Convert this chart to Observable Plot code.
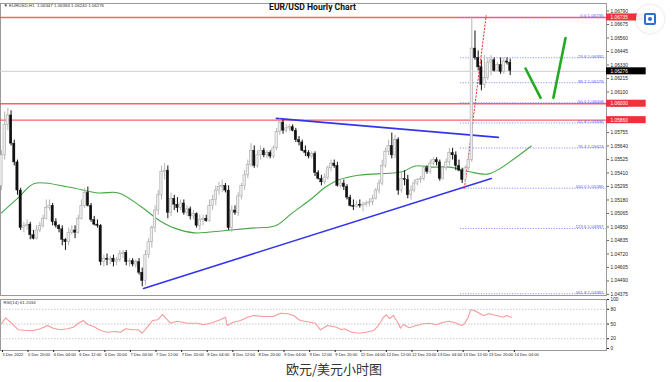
<!DOCTYPE html>
<html><head><meta charset="utf-8">
<script src="https://cdn.jsdelivr.net/npm/d3@7"></script>
<script src="https://cdn.jsdelivr.net/npm/@observablehq/plot@0.6"></script>
<style>
body{margin:0;background:#fff;}
#wrap{position:relative;width:672px;height:382px;overflow:hidden;background:#fff;}
#price{position:absolute;left:0;top:0;}
#rsi{position:absolute;left:0;top:297px;}
#caption{position:absolute;left:0;top:360px;width:668px;text-align:center;font:13px/18px "Noto Sans CJK SC",sans-serif;color:#333;}
#icon{position:absolute;left:636px;top:5px;width:28px;height:28px;border-radius:50%;background:rgba(255,255,255,0.92);box-shadow:0 0 3px rgba(0,0,0,0.18);}
#icon .sq{position:absolute;left:8px;top:8px;width:8px;height:8px;border:2px solid #2a6fd6;border-radius:2px;}
#icon .dot{position:absolute;left:12px;top:12px;width:4px;height:4px;border-radius:50%;background:#2a6fd6;}
</style></head>
<body><div id="wrap"><div id="price"></div><div id="rsi"></div><div id="icon"><div class="sq"></div><div class="dot"></div></div><div id="caption">欧元/美元小时图</div></div>
<script>
// ---- hourly EUR/USD bars (index 0 = 5 Dec 2022 12:00) ----
const open = [1.0530,1.0556,1.0582,1.0590,1.0566,1.0550,1.0526,1.0494,1.0496,1.0497,
1.0488,1.0485,1.0492,1.0496,1.0502,1.0511,1.0513,1.0499,1.0496,1.0493,
1.0484,1.0482,1.0490,1.0492,1.0490,1.0502,1.0513,1.0524,1.0513,1.0501,
1.0497,1.0496,1.0465,1.0468,1.0467,1.0468,1.0465,1.0467,1.0472,1.0473,
1.0465,1.0466,1.0463,1.0465,1.0456,1.0449,1.0471,1.0482,1.0494,1.0509,
1.0522,1.0542,1.0543,1.0507,1.0519,1.0514,1.0511,1.0515,1.0507,1.0510,
1.0504,1.0506,1.0496,1.0501,1.0502,1.0500,1.0513,1.0518,1.0526,1.0529,
1.0530,1.0526,1.0494,1.0509,1.0507,1.0521,1.0530,1.0539,1.0548,1.0560,
1.0547,1.0556,1.0560,1.0556,1.0558,1.0555,1.0562,1.0576,1.0584,1.0577,
1.0579,1.0580,1.0577,1.0569,1.0567,1.0560,1.0558,1.0555,1.0557,1.0541,
1.0536,1.0533,1.0537,1.0545,1.0549,1.0547,1.0530,1.0532,1.0529,1.0520,
1.0513,1.0512,1.0514,1.0513,1.0514,1.0515,1.0516,1.0519,1.0526,1.0532,
1.0547,1.0559,1.0564,1.0556,1.0569,1.0526,1.0536,1.0535,1.0522,1.0526,
1.0532,1.0535,1.0536,1.0545,1.0542,1.0549,1.0552,1.0550,1.0536,1.0545,
1.0550,1.0558,1.0556,1.0547,1.0543,1.0535,1.0545,1.0552,1.0647,1.0639,
1.0631,1.0616,1.0622,1.0635,1.0637,1.0628,1.0633,1.0627,1.0636,1.0635];
const high = [1.0560,1.0593,1.0596,1.0594,1.0569,1.0552,1.0528,1.0499,1.0501,1.0499,
1.0492,1.0496,1.0499,1.0505,1.0518,1.0518,1.0515,1.0502,1.0497,1.0496,
1.0485,1.0494,1.0496,1.0496,1.0505,1.0518,1.0528,1.0529,1.0515,1.0504,
1.0501,1.0497,1.0471,1.0472,1.0470,1.0471,1.0469,1.0475,1.0475,1.0475,
1.0468,1.0468,1.0467,1.0468,1.0460,1.0475,1.0485,1.0496,1.0513,1.0526,
1.0547,1.0549,1.0547,1.0524,1.0522,1.0520,1.0518,1.0518,1.0513,1.0512,
1.0509,1.0507,1.0505,1.0505,1.0505,1.0518,1.0522,1.0530,1.0533,1.0535,
1.0532,1.0530,1.0513,1.0513,1.0524,1.0532,1.0543,1.0552,1.0566,1.0564,
1.0560,1.0564,1.0562,1.0560,1.0560,1.0564,1.0579,1.0587,1.0586,1.0582,
1.0582,1.0582,1.0579,1.0572,1.0569,1.0564,1.0560,1.0559,1.0559,1.0543,
1.0539,1.0540,1.0547,1.0552,1.0552,1.0550,1.0535,1.0535,1.0531,1.0522,
1.0518,1.0517,1.0518,1.0516,1.0517,1.0519,1.0522,1.0528,1.0535,1.0552,
1.0562,1.0569,1.0575,1.0573,1.0571,1.0542,1.0543,1.0539,1.0530,1.0535,
1.0536,1.0538,1.0547,1.0547,1.0552,1.0554,1.0554,1.0552,1.0547,1.0553,
1.0562,1.0562,1.0559,1.0552,1.0545,1.0547,1.0556,1.0674,1.0662,1.0645,
1.0637,1.0641,1.0639,1.0641,1.0639,1.0635,1.0639,1.0639,1.0639,1.0638];
const low = [1.0526,1.0552,1.0577,1.0564,1.0547,1.0522,1.0492,1.0490,1.0492,1.0484,
1.0484,1.0484,1.0490,1.0494,1.0501,1.0509,1.0496,1.0494,1.0490,1.0479,
1.0475,1.0479,1.0488,1.0485,1.0489,1.0501,1.0511,1.0512,1.0499,1.0496,
1.0494,1.0462,1.0461,1.0462,1.0463,1.0461,1.0462,1.0465,1.0468,1.0462,
1.0461,1.0461,1.0460,1.0454,1.0444,1.0445,1.0468,1.0477,1.0490,1.0505,
1.0518,1.0535,1.0502,1.0504,1.0509,1.0507,1.0509,1.0505,1.0504,1.0501,
1.0501,1.0494,1.0492,1.0496,1.0499,1.0499,1.0509,1.0513,1.0522,1.0524,
1.0524,1.0492,1.0490,1.0505,1.0504,1.0518,1.0526,1.0536,1.0546,1.0545,
1.0545,1.0552,1.0554,1.0553,1.0553,1.0553,1.0560,1.0573,1.0574,1.0575,
1.0576,1.0576,1.0567,1.0564,1.0559,1.0555,1.0553,1.0553,1.0538,1.0535,
1.0530,1.0531,1.0535,1.0542,1.0545,1.0529,1.0528,1.0526,1.0518,1.0512,
1.0509,1.0511,1.0511,1.0508,1.0512,1.0512,1.0513,1.0518,1.0523,1.0530,
1.0545,1.0556,1.0553,1.0553,1.0522,1.0524,1.0530,1.0519,1.0518,1.0524,
1.0530,1.0532,1.0534,1.0540,1.0540,1.0547,1.0547,1.0534,1.0535,1.0543,
1.0547,1.0552,1.0543,1.0542,1.0532,1.0533,1.0543,1.0550,1.0637,1.0628,
1.0611,1.0613,1.0620,1.0624,1.0627,1.0627,1.0625,1.0625,1.0633,1.0624];
const close = [1.0556,1.0582,1.0590,1.0566,1.0550,1.0526,1.0494,1.0496,1.0497,1.0488,
1.0485,1.0492,1.0496,1.0502,1.0511,1.0513,1.0499,1.0496,1.0493,1.0484,
1.0482,1.0490,1.0492,1.0490,1.0502,1.0513,1.0524,1.0513,1.0501,1.0497,
1.0496,1.0465,1.0468,1.0467,1.0468,1.0465,1.0467,1.0472,1.0473,1.0465,
1.0466,1.0463,1.0465,1.0456,1.0449,1.0471,1.0482,1.0494,1.0509,1.0522,
1.0542,1.0543,1.0507,1.0519,1.0514,1.0511,1.0515,1.0507,1.0510,1.0504,
1.0506,1.0496,1.0501,1.0502,1.0500,1.0513,1.0518,1.0526,1.0529,1.0530,
1.0526,1.0494,1.0509,1.0507,1.0521,1.0530,1.0539,1.0548,1.0560,1.0547,
1.0556,1.0560,1.0556,1.0558,1.0555,1.0562,1.0576,1.0584,1.0577,1.0579,
1.0580,1.0577,1.0569,1.0567,1.0560,1.0558,1.0555,1.0557,1.0541,1.0536,
1.0533,1.0537,1.0545,1.0549,1.0547,1.0530,1.0532,1.0529,1.0520,1.0513,
1.0512,1.0514,1.0513,1.0514,1.0515,1.0516,1.0519,1.0526,1.0532,1.0547,
1.0559,1.0564,1.0556,1.0569,1.0526,1.0536,1.0535,1.0522,1.0526,1.0532,
1.0535,1.0536,1.0545,1.0542,1.0549,1.0552,1.0550,1.0536,1.0545,1.0550,
1.0558,1.0556,1.0547,1.0543,1.0535,1.0545,1.0552,1.0647,1.0639,1.0631,
1.0616,1.0622,1.0635,1.0637,1.0628,1.0633,1.0627,1.0636,1.0635,1.0628];

// moving average (green)
const maIdx = [0,5.3,10.3,20.9,30.3,36.6,43.8,49.1,54.1,60.3,70,78.1,85.6,90.9,96.9,101.3,105.3,111.6,122.2,125.3,129.4,134.7,140,146.3,151.9,154.7,159.7,165.6];
const maVal = [1.0507,1.0520,1.0532,1.0529,1.0524,1.0524,1.0512,1.0501,1.0494,1.0490,1.0492,1.0494,1.0496,1.0507,1.0519,1.0529,1.0535,1.0539,1.0541,1.0542,1.0547,1.0546,1.0546,1.0542,1.0540,1.0543,1.0552,1.0564];

// RSI(14)
const rsiIdx = [0,1.3,2.8,5.3,8.1,10,12.2,14.4,16.2,18.4,20.6,22.5,24,25.6,26.9,28.8,31,33,35.6,37.2,38.8,41,42.8,44,45.6,47.2,48.8,50.3,51.3,52.8,55,58,61.3,63,65.3,68.4,70,70.6,72.5,74.7,76.9,78.8,81.9,85,87.2,89.4,91.3,93.4,96.6,98.1,99.7,101.9,104.7,106.3,107.2,109.4,111.9,114,116.3,117.8,119.4,120.3,121.3,122.5,124,124.7,125.6,127.5,129.7,131.9,133.8,135.9,138.1,140,142.2,143.8,144.7,145.9,146.6,147.8,150.6,152.5,154.7,156.9,157.8,159.4];
const rsiVal = [50.4,62.7,53.7,38.2,36.7,36.7,40.2,46.9,41.4,38.2,40.2,43.5,51.6,57.1,49,44.9,36.7,33.3,34.7,33.3,40.2,38.2,38.2,31.2,43.5,57.1,58.6,69.4,62.7,51.6,55.7,51.6,51.6,48.4,51.6,58.6,63.9,46.9,53.7,57.1,63.9,67.3,65.3,65.3,72,70.8,67.3,57.1,53.7,51.6,38.2,46.9,43.5,38.2,40.2,33.3,31.2,33.3,36.7,46.9,63.9,68.8,61.2,67.3,51.6,41.4,49,42.2,46.9,50.4,51.6,48.4,53.7,55.7,51.6,46.9,50.4,63.9,79,77.6,67.3,70.8,67.3,63.9,67.3,63.9];
const rsiLevels = [80, 50, 20];
const rsiTicks = [100, 80, 50, 20, 0];

// drawn objects
const trendId = ["support","support","resistance","resistance"];
const trendIdx = [44.4, 153.1, 85.9, 155.3];
const trendPrice = [1.04426, 1.05363, 1.05875, 1.05713];
const zigId = ["a","a","b","b"];
const zigIdx = [163.8, 168.5, 172.5, 176.3];
const zigPrice = [1.0630, 1.0605, 1.0605, 1.0656];
const fibDiagIdx = [144.7, 151.5];
const fibDiagPrice = [1.0528, 1.0675];
const fibStartIdx = 143.5;
const fibLevels = ["0.0","23.6","38.2","50.0","61.8","76.4","100.0","123.6","161.8"];
const fibPrices = [1.06735,1.06392,1.06179,1.06008,1.05836,1.05623,1.05280,1.04937,1.04381];
const redLevels = [1.06735, 1.06000, 1.05860];
const lastPrice = 1.06276;

// axes
const priceTicks = [1.04375,1.04490,1.04605,1.04720,1.04835,1.04950,1.05065,1.05180,1.05295,1.05410,1.05525,1.05640,1.05755,1.05870,1.05985,1.06100,1.06215,1.06330,1.06445,1.06560,1.06675,1.06790];
const timeIdx = [0,8,16,24,32,40,48,56,64,72,80,88,96,104,112,120,128,136,144,152,160];
const timeLabels = ["5 Dec 2022","5 Dec 20:00","6 Dec 04:00","6 Dec 12:00","6 Dec 20:00","7 Dec 04:00","7 Dec 12:00","7 Dec 20:00","8 Dec 04:00","8 Dec 12:00","8 Dec 20:00","9 Dec 04:00","9 Dec 12:00","9 Dec 20:00","12 Dec 04:00","12 Dec 12:00","12 Dec 20:00","13 Dec 04:00","13 Dec 12:00","13 Dec 20:00","14 Dec 04:00"];
const headerText = "▼ EURUSD,H1  1.06347 1.06384 1.06240 1.06276";
const titleText = "EUR/USD Hourly Chart";
const rsiText = "RSI(14) 61.2034";

// ---- build ----
const X_DOMAIN = [-0.3, 189.1];
const XMAX = X_DOMAIN[1];
const BOX = 12.4; // label box width in bar units
const bars = close.map((c, i) => ({i, o: open[i], h: high[i], l: low[i], c}));
const up = bars.filter(b => b.c >= b.o), dn = bars.filter(b => b.c < b.o);
const ma = maIdx.map((x, k) => ({x, y: maVal[k]}));
const rsi = rsiIdx.map((x, k) => ({x, y: rsiVal[k]}));
const trend = trendIdx.map((x, k) => ({x, y: trendPrice[k], z: trendId[k]}));
const zig = zigIdx.map((x, k) => ({x, y: zigPrice[k], z: zigId[k]}));
const fibDiag = fibDiagIdx.map((x, k) => ({x, y: fibDiagPrice[k]}));
const fib = fibLevels.map((lv, k) => ({y: fibPrices[k], t: lv + " " + fibPrices[k].toFixed(5)}));
const boxes = redLevels.map(p => ({y: p, fill: "#f0303a", t: p.toFixed(5)})).concat([{y: lastPrice, fill: "#000", t: lastPrice.toFixed(5)}]);
const timeMap = new Map(timeIdx.map((d, k) => [d, timeLabels[k]]));
const FONT = "'Liberation Sans', Arial, sans-serif";

const pricePlot = Plot.plot({
  width: 672, height: 297,
  marginLeft: 0, marginRight: 66, marginTop: 3, marginBottom: 2,
  x: {domain: X_DOMAIN, axis: null},
  y: {domain: [1.04366, 1.06854], axis: null},
  style: {fontFamily: FONT, fontSize: "5px", color: "#222", background: "transparent", overflow: "visible"},
  marks: [
    Plot.frame({stroke: "#9a9a9a"}),
    Plot.ruleY([lastPrice], {stroke: "#cfcfcf", strokeWidth: 1}),
    Plot.ruleY(redLevels, {stroke: "#f5505a", strokeWidth: 1.4, strokeOpacity: 0.9}),
    Plot.ruleY(fibPrices, {x1: fibStartIdx, x2: XMAX, stroke: "#7474ff", strokeWidth: 0.9, strokeDasharray: "1,1.6"}),
    Plot.line(ma, {x: "x", y: "y", stroke: "#45a845", strokeWidth: 1.1, curve: "catmull-rom"}),
    Plot.line(trend, {x: "x", y: "y", z: "z", stroke: "#3434ee", strokeWidth: 1.6}),
    Plot.line(fibDiag, {x: "x", y: "y", stroke: "#f03030", strokeWidth: 1, strokeDasharray: "1.4,2"}),
    Plot.ruleX(up, {x: "i", y1: "l", y2: "h", stroke: "#b4b4b4", strokeWidth: 1}),
    Plot.ruleX(dn, {x: "i", y1: "l", y2: "h", stroke: "#111", strokeWidth: 1}),
    Plot.rect(up, {x1: d => d.i - 0.36, x2: d => d.i + 0.36, y1: "o", y2: "c", fill: "#eeeeee", stroke: "#aaaaaa", strokeWidth: 0.6}),
    Plot.rect(dn, {x1: d => d.i - 0.36, x2: d => d.i + 0.36, y1: "o", y2: "c", fill: "#111", stroke: "#111", strokeWidth: 0.4}),
    Plot.line(zig, {x: "x", y: "y", z: "z", stroke: "#22aa22", strokeWidth: 2.6}),
    Plot.text(fib, {x: XMAX, y: "y", text: "t", textAnchor: "end", lineAnchor: "bottom", dx: -3, dy: 0, fill: "#5b5bff", fontSize: 4.4}),
    Plot.axisY(priceTicks, {anchor: "right", tickSize: 2, tickPadding: 2, tickFormat: d3.format(".5f"), label: null, fontSize: 4.8, stroke: "#666"}),
    Plot.rect(boxes, {x1: XMAX, x2: XMAX + BOX, y1: d => d.y - 0.0003, y2: d => d.y + 0.0003, fill: "fill"}),
    Plot.text(boxes, {x: XMAX, y: "y", text: "t", textAnchor: "start", dx: 4, fill: "#fff", fontSize: 4.8}),
    Plot.text([headerText], {frameAnchor: "top-left", dx: 3, dy: 0, fontSize: 4.4, fill: "#333"}),
    Plot.text([titleText], {frameAnchor: "top", dx: 9, dy: 0, fontSize: 8.6, fontWeight: "bold", fill: "#111", fontFamily: "Roboto, 'Liberation Sans', sans-serif"})
  ]
});
document.getElementById("price").appendChild(pricePlot);

const rsiPlot = Plot.plot({
  width: 672, height: 62,
  marginLeft: 0, marginRight: 66, marginTop: 2, marginBottom: 9,
  x: {domain: X_DOMAIN, axis: null},
  y: {domain: [-4, 100], axis: null},
  style: {fontFamily: FONT, fontSize: "5px", color: "#222", background: "transparent", overflow: "visible"},
  marks: [
    Plot.frame({stroke: "#9a9a9a"}),
    Plot.ruleY(rsiLevels, {stroke: "#bdbdbd", strokeWidth: 0.8, strokeDasharray: "1.5,1.5"}),
    Plot.line(rsi, {x: "x", y: "y", stroke: "#f89a9a", strokeWidth: 1.1}),
    Plot.axisY(rsiTicks, {anchor: "right", tickSize: 2, tickPadding: 2, label: null, fontSize: 4.8}),
    Plot.axisX(timeIdx, {anchor: "bottom", tickSize: 2, tickPadding: 1, tickFormat: d => timeMap.get(d), textAnchor: "start", dx: 1, label: null, fontSize: 4.1}),
    Plot.text([rsiText], {frameAnchor: "top-left", dx: 3, dy: 1, fontSize: 4.4, fill: "#333"})
  ]
});
document.getElementById("rsi").appendChild(rsiPlot);
</script>
</body></html>
